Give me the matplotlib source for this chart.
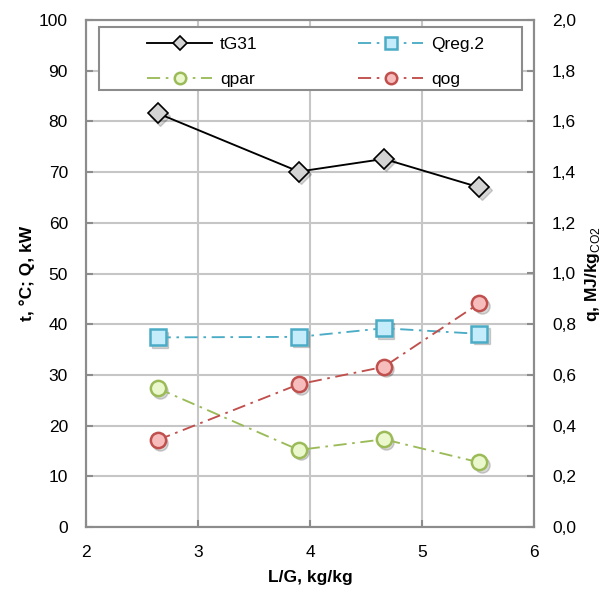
import matplotlib
matplotlib.use("Agg")
import matplotlib.pyplot as plt
from matplotlib.patches import Rectangle
from matplotlib.transforms import offset_copy
from matplotlib.ticker import FuncFormatter, MultipleLocator

plt.rcParams['font.family'] = ['Liberation Sans', 'DejaVu Sans']
plt.rcParams['mathtext.fontset'] = 'custom'
plt.rcParams['mathtext.rm'] = 'Liberation Sans'
plt.rcParams['mathtext.bf'] = 'Liberation Sans:bold'

# Data
lg = [2.64, 3.90, 4.66, 5.51]
tG31 = [81.6, 70.1, 72.6, 67.0]
Qreg2 = [37.4, 37.5, 39.2, 38.1]
qpar = [0.547, 0.304, 0.346, 0.255]
qog = [0.343, 0.563, 0.632, 0.882]

W, H = 609, 589
fig = plt.figure(figsize=(W / 100, H / 100), dpi=100)
ax = fig.add_axes([86 / W, 1 - 527 / H, 448 / W, 507 / H])
ax2 = ax.twinx()

dashdot = (0, (7, 3, 1.4, 3))
LW = 1.35


def soft_shadow(a, x, y, marker, ms):
    tr = offset_copy(a.transData, fig=fig, x=1.8, y=-1.8, units='points')
    a.plot(x, y, ls='none', marker=marker, ms=ms, mfc='#000000', mec='#000000',
           alpha=0.16, transform=tr, zorder=2)


soft_shadow(ax, lg, tG31, 'D', 10)
soft_shadow(ax, lg, Qreg2, 's', 11)
soft_shadow(ax2, lg, qpar, 'o', 11)
soft_shadow(ax2, lg, qog, 'o', 11)

l1, = ax.plot(lg, tG31, color='black', lw=LW, marker='D', ms=10,
              mfc='#d4d4d4', mec='black', mew=1.2, label='tG31', zorder=3)
l2, = ax.plot(lg, Qreg2, color='#4bacc6', lw=LW, ls=dashdot, marker='s', ms=11,
              mfc='#c4ecfb', mec='#4bacc6', mew=1.8, label='Qreg.2', zorder=3)
l3, = ax2.plot(lg, qpar, color='#9bbb59', lw=LW, ls=dashdot, marker='o', ms=11,
               mfc='#ebf7cc', mec='#9bbb59', mew=1.8, label='qpar', zorder=3)
l4, = ax2.plot(lg, qog, color='#c0504d', lw=LW, ls=dashdot, marker='o', ms=11,
               mfc='#f7bcbc', mec='#c0504d', mew=1.8, label='qog', zorder=3)

ax.set_xlim(2, 6)
ax.set_ylim(0, 100)
ax2.set_ylim(0, 2.0)
ax.xaxis.set_major_locator(MultipleLocator(1))
ax.yaxis.set_major_locator(MultipleLocator(10))
ax2.yaxis.set_major_locator(MultipleLocator(0.2))
ax2.yaxis.set_major_formatter(FuncFormatter(lambda v, p: f"{v:.1f}".replace('.', ',')))

ax.grid(True, color='#c6c6c6', lw=1.5)
ax.set_axisbelow(True)
for a in (ax, ax2):
    for s in a.spines.values():
        s.set_color('#8c8c8c')
        s.set_linewidth(1.5)
ax.tick_params(axis='both', direction='in', length=5, width=1.5, color='#8c8c8c',
               labelsize=12.5, pad=13)
ax2.tick_params(axis='y', direction='in', length=5, width=1.5, color='#8c8c8c',
                labelsize=12.5, pad=13)

ax.set_xlabel('L/G, kg/kg', fontsize=12.5, fontweight='bold', labelpad=7)
ax.set_ylabel('t, °C; Q, kW', fontsize=12.5, fontweight='bold', labelpad=3)
ax2.set_ylabel(r'q, MJ/kg$_{\mathrm{CO2}}$', fontsize=12.5, fontweight='bold', labelpad=5)

ax2.set_zorder(ax.get_zorder() + 1)
ax2.patch.set_visible(False)

# legend frame
frame = Rectangle((99 / W, 1 - 90 / H), 423 / W, 63 / H, transform=fig.transFigure,
                  facecolor='white', edgecolor='#8c8c8c', lw=1.5, zorder=4)
ax2.add_artist(frame)

leg_kw = dict(loc='upper left', fontsize=12.5, frameon=False, handlelength=3.75,
              handletextpad=0.45, borderpad=0.0, borderaxespad=0.0, markerscale=0.75,
              labelspacing=1.15, bbox_transform=fig.transFigure)
legA = ax2.legend(handles=[l1, l3], bbox_to_anchor=(147 / W, 1 - 36.5 / H), **leg_kw)
legA.set_zorder(5)
ax2.add_artist(legA)
legB = ax2.legend(handles=[l2, l4], bbox_to_anchor=(358 / W, 1 - 36.5 / H), **leg_kw)
legB.set_zorder(5)

fig.savefig('out.png', dpi=100)
